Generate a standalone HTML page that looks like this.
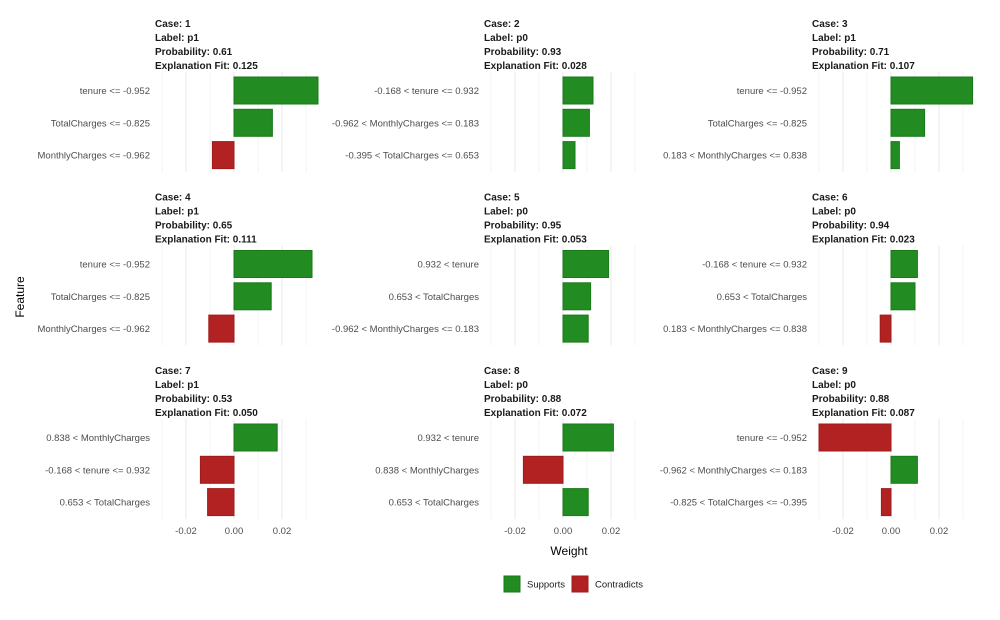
<!DOCTYPE html>
<html><head><meta charset="utf-8"><style>
body{margin:0;background:#fff;}
svg text{font-family:"Liberation Sans",sans-serif;}
</style></head><body>
<svg id="chart" width="1000" height="615"></svg>
<script>
const cases=["1","2","3","4","5","6","7","8","9"];
const labels=["p1","p0","p1","p1","p0","p0","p1","p0","p0"];
const probs=["0.61","0.93","0.71","0.65","0.95","0.94","0.53","0.88","0.88"];
const fits=["0.125","0.028","0.107","0.111","0.053","0.023","0.050","0.072","0.087"];
const features=[
 ["tenure <= -0.952","TotalCharges <= -0.825","MonthlyCharges <= -0.962"],
 ["-0.168 < tenure <= 0.932","-0.962 < MonthlyCharges <= 0.183","-0.395 < TotalCharges <= 0.653"],
 ["tenure <= -0.952","TotalCharges <= -0.825","0.183 < MonthlyCharges <= 0.838"],
 ["tenure <= -0.952","TotalCharges <= -0.825","MonthlyCharges <= -0.962"],
 ["0.932 < tenure","0.653 < TotalCharges","-0.962 < MonthlyCharges <= 0.183"],
 ["-0.168 < tenure <= 0.932","0.653 < TotalCharges","0.183 < MonthlyCharges <= 0.838"],
 ["0.838 < MonthlyCharges","-0.168 < tenure <= 0.932","0.653 < TotalCharges"],
 ["0.932 < tenure","0.838 < MonthlyCharges","0.653 < TotalCharges"],
 ["tenure <= -0.952","-0.962 < MonthlyCharges <= 0.183","-0.825 < TotalCharges <= -0.395"]
];
const weights=[
 [0.035,0.016,-0.009],
 [0.0125,0.011,0.005],
 [0.034,0.014,0.0035],
 [0.0325,0.0155,-0.0105],
 [0.019,0.0115,0.0105],
 [0.011,0.010,-0.0045],
 [0.018,-0.014,-0.011],
 [0.021,-0.0165,0.0105],
 [-0.030,0.011,-0.004]
];
const tickVals=[-0.02,0,0.02];
const tickLabels=["-0.02","0.00","0.02"];
const gridVals=[-0.03,-0.02,-0.01,0,0.01,0.02,0.03];

const NS="http://www.w3.org/2000/svg";
const svg=document.getElementById('chart');
function mk(tag,attrs,parent){const e=document.createElementNS(NS,tag);for(const k in attrs)e.setAttribute(k,attrs[k]);(parent||svg).appendChild(e);return e;}
const zeroX=[234,563,891], stripX=[155,484,812], labelX=[150,479,807];
const rowTop=[0,173.5,347];
const pxPerUnit=2400;
function xScale(col,v){return zeroX[col]+v*pxPerUnit;}
function yScale(row,i){return 90.5+rowTop[row]+i*32.3;}

for(let p=0;p<9;p++){
  const col=p%3,row=Math.floor(p/3);
  const g=mk('g',{});
  
  
  gridVals.forEach(v=>{
    const gl=mk('line',{x1:xScale(col,v),x2:xScale(col,v),y1:72+rowTop[row],y2:172+rowTop[row],stroke:'#ebebeb','stroke-width':(Math.round(Math.abs(v)*100)%2===0)?1.1:0.6},g);
    
    
  });
  const lines=["Case: "+cases[p],"Label: "+labels[p],"Probability: "+probs[p],"Explanation Fit: "+fits[p]];
  lines.forEach((t,i)=>{
    const tx=mk('text',{x:stripX[col],y:27+rowTop[row]+i*14,'font-size':'10','font-weight':'bold',fill:'#1a1a1a'},g);
    tx.textContent=t;
    
    
  });
  for(let i=0;i<3;i++){
    const w=weights[p][i],y=yScale(row,i);
    const x0=xScale(col,Math.min(0,w)),x1=xScale(col,Math.max(0,w));
    const r=mk('rect',{x:x0,y:y-13.5,width:x1-x0,height:27,fill:w>=0?'#228B22':'#B22222',stroke:w>=0?'#1a7a1a':'#9e1c1c','stroke-width':1},g);
    
    
    const lt=mk('text',{x:labelX[col],y:y+3.5,'font-size':'9.5','text-anchor':'end',fill:'#4d4d4d'},g);
    lt.textContent=features[p][i];
    
    
  }
  if(row===2){
    tickVals.forEach((v,i)=>{
      const t=mk('text',{x:xScale(col,v),y:534,'font-size':'9.5','text-anchor':'middle',fill:'#4d4d4d'},g);
      t.textContent=tickLabels[i];
      
      
    });
  }
}
const xt=mk('text',{x:569,y:555,'font-size':'12','text-anchor':'middle',fill:'#000'});
xt.textContent='Weight';


const yt=mk('text',{x:0,y:0,'font-size':'12','text-anchor':'middle',fill:'#000',transform:'translate(24,297) rotate(-90)'});
yt.textContent='Feature';


const lg=mk('g',{});


[['Supports','#228B22','#1a7a1a',504,527],['Contradicts','#B22222','#9e1c1c',572,595]].forEach(d=>{
  const b=mk('rect',{x:d[3],y:576,width:16,height:16,fill:d[1],stroke:d[2]},lg);
  
  
  const t=mk('text',{x:d[4],y:587.5,'font-size':'9.5',fill:'#1a1a1a'},lg);
  t.textContent=d[0];
  
  
});
</script>
</body></html>
